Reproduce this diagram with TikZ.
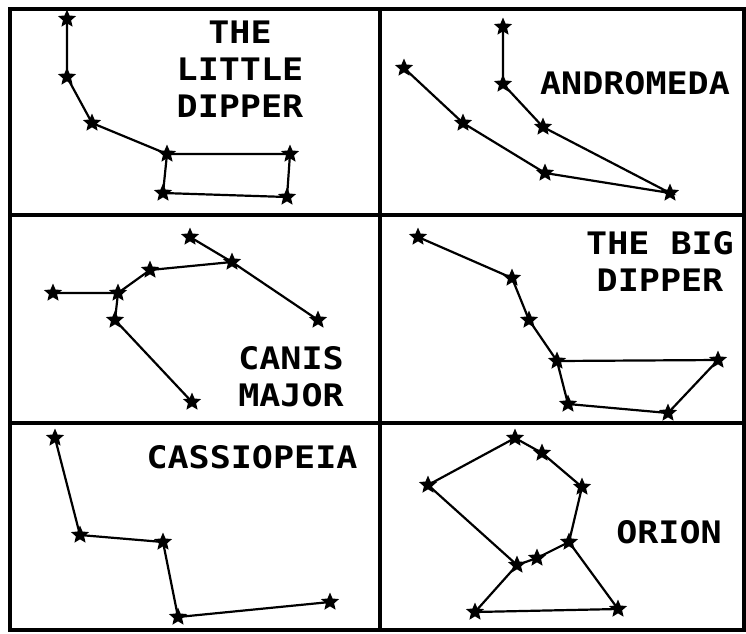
\documentclass[tikz,border=0pt]{standalone}
\usepackage{fontspec}
\usetikzlibrary{shapes.geometric}
\newfontfamily\labfont[FakeStretch=1.13]{DejaVu Sans Mono Bold}
\begin{document}
\begin{tikzpicture}[x=1pt,y=-1pt,
  starnode/.style={star,star points=5,star point ratio=2.2,minimum size=19pt,inner sep=0pt,fill=black,draw=none},
  link/.style={line width=2.2pt,black},
  frame/.style={line width=3.6pt,black},
  lab/.style={font=\labfont\fontsize{31}{37}\selectfont,align=center,inner sep=0pt}]
\useasboundingbox (0,0) rectangle (746,633);
\fill[white] (0,0) rectangle (746,633);
% frame
\draw[frame] (10,9) rectangle (744,630);
\draw[frame] (380,9) -- (380,630);
\draw[frame] (10,215) -- (744,215);
\draw[frame] (10,423) -- (744,423);
% ---------- Little Dipper
\node[starnode] (l1) at (67,19) {};
\node[starnode] (l2) at (67,77) {};
\node[starnode] (l3) at (92,123) {};
\node[starnode] (l4) at (167,154) {};
\node[starnode] (l5) at (290,154) {};
\node[starnode] (l6) at (163,193) {};
\node[starnode] (l7) at (287,197) {};
\draw[link] (l1.center)--(l2.center)--(l3.center)--(l4.center)--(l5.center)--(l7.center)--(l6.center)--(l4.center);
\node[lab] (tl1) at (240,32) {THE};
\node[lab] (tl2) at (240,69) {LITTLE};
\node[lab] (tl3) at (240,106) {DIPPER};
% ---------- Andromeda
\node[starnode] (a1) at (503,27) {};
\node[starnode] (a2) at (503,84) {};
\node[starnode] (a3) at (543,127) {};
\node[starnode] (a4) at (670,193) {};
\node[starnode] (a5) at (404,68) {};
\node[starnode] (a6) at (463,123) {};
\node[starnode] (a7) at (545,173) {};
\draw[link] (a1.center)--(a2.center)--(a3.center)--(a4.center)--(a7.center)--(a6.center)--(a5.center);
\node[lab] (ta) at (635,83) {ANDROMEDA};
% ---------- Canis Major
\node[starnode] (c1) at (190,237) {};
\node[starnode] (c2) at (232,262) {};
\node[starnode] (c3) at (150,270) {};
\node[starnode] (c4) at (53,293) {};
\node[starnode] (c5) at (118,293) {};
\node[starnode] (c6) at (115,320) {};
\node[starnode] (c7) at (318,320) {};
\node[starnode] (c8) at (192,402) {};
\draw[link] (c1.center)--(c2.center)--(c7.center);
\draw[link] (c2.center)--(c3.center)--(c5.center)--(c4.center);
\draw[link] (c5.center)--(c6.center)--(c8.center);
\node[lab] (tc1) at (291,358) {CANIS};
\node[lab] (tc2) at (291,395) {MAJOR};
% ---------- Big Dipper
\node[starnode] (b1) at (418,237) {};
\node[starnode] (b2) at (512,278) {};
\node[starnode] (b3) at (529,320) {};
\node[starnode] (b4) at (557,361) {};
\node[starnode] (b5) at (718,360) {};
\node[starnode] (b6) at (568,404) {};
\node[starnode] (b7) at (668,413) {};
\draw[link] (b1.center)--(b2.center)--(b3.center)--(b4.center)--(b5.center)--(b7.center)--(b6.center)--(b4.center);
\node[lab] (tb1) at (660,243) {THE BIG};
\node[lab] (tb2) at (660,280) {DIPPER};
% ---------- Cassiopeia
\node[starnode] (s1) at (55,438) {};
\node[starnode] (s2) at (80,535) {};
\node[starnode] (s3) at (163,542) {};
\node[starnode] (s4) at (178,617) {};
\node[starnode] (s5) at (330,602) {};
\draw[link] (s1.center)--(s2.center)--(s3.center)--(s4.center)--(s5.center);
\node[lab] (ts) at (252,457) {CASSIOPEIA};
% ---------- Orion
\node[starnode] (o1) at (515,438) {};
\node[starnode] (o2) at (542,453) {};
\node[starnode] (o3) at (582,487) {};
\node[starnode] (o4) at (428,485) {};
\node[starnode] (o5) at (569,542) {};
\node[starnode] (o6) at (537,558) {};
\node[starnode] (o7) at (517,565) {};
\node[starnode] (o8) at (475,612) {};
\node[starnode] (o9) at (618,609) {};
\draw[link] (o4.center)--(o1.center)--(o2.center)--(o3.center)--(o5.center)--(o6.center)--(o7.center)--(o4.center);
\draw[link] (o7.center)--(o8.center)--(o9.center)--(o5.center);
\node[lab] (to) at (669,532) {ORION};
\end{tikzpicture}
\end{document}
